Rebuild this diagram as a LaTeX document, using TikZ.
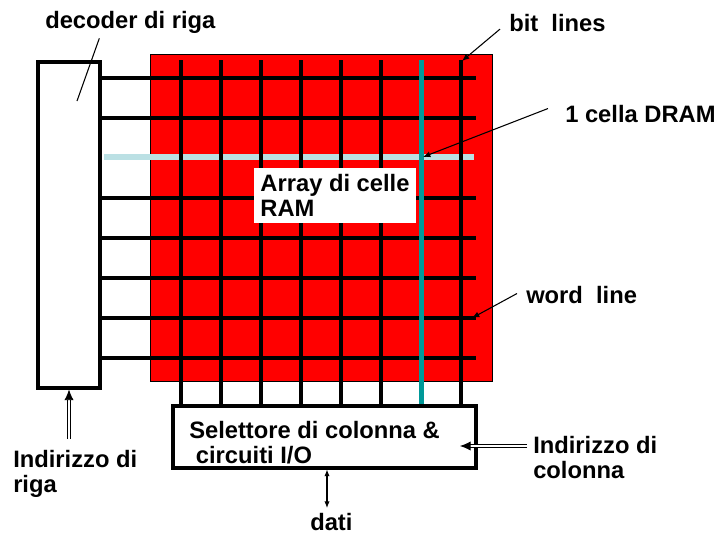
\documentclass[tikz,border=0pt]{standalone}
\usepackage{fontspec}
\setmainfont{Liberation Sans}
\usetikzlibrary{arrows.meta}
\definecolor{tealline}{RGB}{0,153,153}
\definecolor{wordsel}{RGB}{187,224,228}
\tikzset{
  lbl/.style={font=\fontsize{17.8pt}{18.75pt}\selectfont\bfseries, inner sep=0pt, align=left, anchor=base west},
  blockbox/.style={draw=black, line width=2.3pt, fill=white},
  gridline/.style={line width=2.3pt},
  pointer/.style={line width=0.8pt, -{Latex[length=5.5pt,width=4.5pt]}},
  addr/.style={double, line width=0.7pt, double distance=1.4pt, -{Latex[length=8pt,width=7pt]}},
}
\begin{document}
\begin{tikzpicture}[x=0.75pt, y=-0.75pt]
  \useasboundingbox (0,0) rectangle (719,533);
  % blocchi
  \node[minimum width=46.5pt, minimum height=244.5pt, outer sep=1.15pt] (decoder) at (69,225) {};
  \draw[blockbox] (decoder.north west) ++(1.53,1.53) rectangle ([shift={(-1.53,-1.53)}]decoder.south east);
  \node[draw, fill=red, line width=0.7pt, minimum width=256.5pt, minimum height=245.25pt] (array) at (321,217.5) {};
  \node[minimum width=227.25pt, minimum height=46.5pt, outer sep=1.15pt] (sel) at (324.5,437) {};
  \draw[blockbox] (sel.north west) ++(1.53,1.53) rectangle ([shift={(-1.53,-1.53)}]sel.south east);
  % word lines
  \foreach \y in {78,118,198,238,278,318,358}
    \draw[gridline] (decoder.east |- 0,\y) -- (476,\y);
  \draw[wordsel, line width=4pt] (104,157) -- (474,157);
  % bit lines
  \foreach \x in {181,221,261,301,341,381,461}
    \draw[gridline] (\x,60) -- (sel.north -| \x,0);
  \node[fill=white, inner sep=0pt, minimum width=121.5pt, minimum height=41.25pt,
        align=left, font=\fontsize{17.8pt}{18.2pt}\selectfont\bfseries] (arraylbl) at (335,195.5) {Array di celle\\RAM};
  \draw[tealline, line width=3.75pt] (421,60) -- (sel.north -| 421,0);
  % etichette (base = ultima riga)
  \node[lbl] (declbl) at (45,28) {decoder di riga};
  \node[lbl] (bitlbl) at (509,31) {bit\ \ lines};
  \node[lbl] (celllbl) at (565,122) {1 cella DRAM};
  \node[lbl] (wordlbl) at (526,303) {word\ \ line};
  \node[lbl] (seltxt) at (189,463) {Selettore di colonna \&\\\hspace*{5pt}circuiti I/O};
  \node[lbl] (rowaddr) at (13,492) {Indirizzo di\\riga};
  \node[lbl] (coladdr) at (533,478) {Indirizzo di\\colonna};
  \node[lbl] (datilbl) at (310,530) {dati};
  % frecce
  \coordinate (dectip) at (77,101);
  \coordinate (bittip) at (462,61);
  \coordinate (celltip) at (423,157);
  \coordinate (wordtip) at (472,318);
  \coordinate (rowin) at (69,439);
  \coordinate (colin) at (527,446);
  \coordinate (coltip) at (460,446);
  \draw[line width=0.8pt] ([shift={(-31,5)}]declbl.south) -- (dectip);
  \draw[pointer] ([shift={(-9,6.6)}]bitlbl.west) -- (bittip);
  \draw[pointer] ([shift={(-17,-5)}]celllbl.west) -- (celltip);
  \draw[pointer] ([shift={(-9,-1)}]wordlbl.west) -- (wordtip);
  \draw[addr] (rowin) -- (decoder.south);
  \draw[addr] (colin) -- (coltip);
  \draw[line width=0.8pt, {Latex[length=5pt,width=4pt]}-{Latex[length=5pt,width=4pt]}] (sel.south -| 327,0) -- (327,508);
\end{tikzpicture}
\end{document}
